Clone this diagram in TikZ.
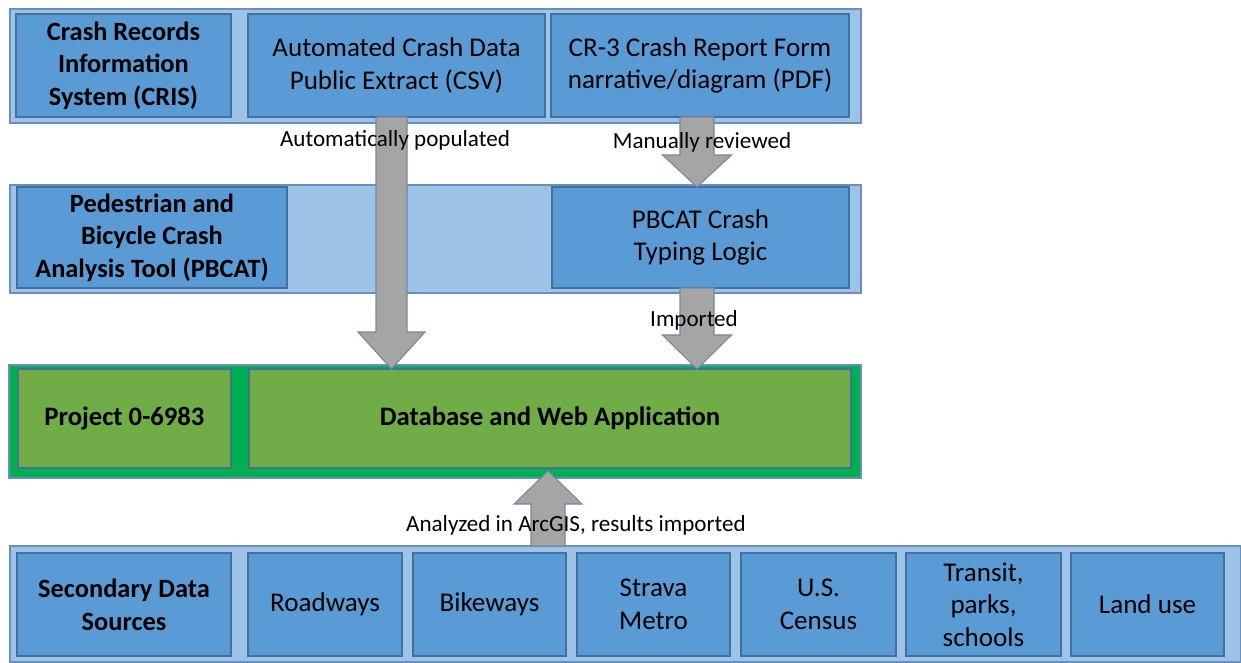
\documentclass[tikz,border=0pt]{standalone}
\usepackage{fontspec}
\setmainfont{Carlito}
\usetikzlibrary{calc}
\definecolor{outerfill}{HTML}{9DC3E6}
\definecolor{outerline}{HTML}{6C8EBF}
\definecolor{innerfill}{HTML}{5B9BD5}
\definecolor{innerline}{HTML}{41719C}
\definecolor{gouter}{HTML}{00B050}
\definecolor{ginner}{HTML}{70AD47}
\definecolor{arrfill}{HTML}{A5A5A5}
\definecolor{arrline}{HTML}{7487A3}
\tikzset{
  box/.style={rectangle, inner sep=0pt, outer sep=0pt, anchor=north west, line width=1pt, align=center, text=black},
  outerbox/.style={box, fill=outerfill, draw=outerline},
  innerbox/.style={box, fill=innerfill, draw=innerline, font=\fontsize{20.3}{24.5}\selectfont},
  boldbox/.style={innerbox, font=\fontsize{19.8}{24.5}\selectfont\bfseries},
  greenouter/.style={box, fill=gouter, draw=outerline},
  greeninner/.style={box, fill=ginner, draw=innerline, font=\fontsize{20}{24.5}\selectfont\bfseries},
  barrow/.style={fill=arrfill, draw=arrline, line width=0.8pt, line join=miter},
  lbl/.style={font=\fontsize{17.3}{20}\selectfont, inner sep=0pt, text=black}
}
% #1 name, #2 x1, #3 y1, #4 x2, #5 y2, #6 style, #7 text
\newcommand\pbox[7]{\node[#6, minimum width={(#4-#2)*0.75pt}, minimum height={(#5-#3)*0.75pt}] (#1) at (#2,#3) {#7};}
% #1 start, #2 tip, #3 shaft half, #4 head half, #5 signed head length
\newcommand\blockarrow[5]{\draw[barrow] ($(#1)+(-#3,0)$) -- ($(#2)+(-#3,-#5)$) -- ($(#2)+(-#4,-#5)$) -- (#2) -- ($(#2)+(#4,-#5)$) -- ($(#2)+(#3,-#5)$) -- ($(#1)+(#3,0)$) -- cycle;}
\begin{document}
\begin{tikzpicture}[x=0.75pt, y=-0.75pt]
\useasboundingbox (0,0) rectangle (1241,662);
% row 1
\pbox{row1}{10}{9}{861}{123}{outerbox}{}
\pbox{cris}{16}{14}{231}{117}{boldbox}{Crash Records\\Information\\System (CRIS)}
\pbox{auto}{248}{14}{545}{117}{innerbox}{Automated Crash Data\\Public Extract (CSV)}
\pbox{cr3}{551}{14}{849}{117}{innerbox}{CR-3 Crash Report Form\\narrative/diagram (PDF)}
% row 2
\pbox{row2}{10}{185}{861}{293}{outerbox}{}
\pbox{pbcat}{17}{187}{287}{288}{boldbox}{Pedestrian and\\Bicycle Crash\\Analysis Tool (PBCAT)}
\pbox{pbl}{552}{187}{849}{288}{innerbox}{PBCAT Crash\\Typing Logic}
% row 3
\pbox{row3}{9}{365}{861}{478}{greenouter}{}
\pbox{proj}{18}{369}{231}{468}{greeninner}{Project 0-6983}
\pbox{db}{249}{369}{851}{468}{greeninner}{Database and Web Application}
% row 4
\pbox{row4}{10}{546}{1241}{662}{outerbox}{}
\pbox{sec}{17}{553}{231}{656}{boldbox}{Secondary Data\\Sources}
\pbox{road}{248}{553}{402}{656}{innerbox}{Roadways}
\pbox{bike}{413}{553}{566}{656}{innerbox}{Bikeways}
\pbox{strava}{577}{553}{730}{656}{innerbox}{Strava\\Metro}
\pbox{census}{741}{553}{896}{656}{innerbox}{U.S.\\Census}
\pbox{transit}{906}{553}{1061}{656}{innerbox}{Transit,\\parks,\\schools}
\pbox{land}{1071}{553}{1224}{656}{innerbox}{Land use}
% arrows
\coordinate (a1s) at ($(auto.south)+(-5,0)$);
\coordinate (a1e) at (a1s |- db.north);
\blockarrow{a1s}{a1e}{15.5}{33.5}{37}
\coordinate (a2s) at ($(cr3.south)+(-3,0)$);
\coordinate (a2e) at (a2s |- pbl.north);
\blockarrow{a2s}{a2e}{17}{34.5}{32}
\coordinate (a3s) at ($(pbl.south)+(-3.5,0)$);
\coordinate (a3e) at (a3s |- db.north);
\blockarrow{a3s}{a3e}{17}{34.5}{34}
\coordinate (a4s) at (548,546);
\coordinate (a4e) at ($(a4s |- db.south)+(0,3)$);
\blockarrow{a4s}{a4e}{17}{34}{-33}
% labels
\node[lbl] (l1) at (395,140) {Automatically populated};
\node[lbl] (l2) at (702,142) {Manually reviewed};
\node[lbl] (l3) at (694,320) {Imported};
\node[lbl] (l4) at (576,525) {Analyzed in ArcGIS, results imported};
\end{tikzpicture}
\end{document}
